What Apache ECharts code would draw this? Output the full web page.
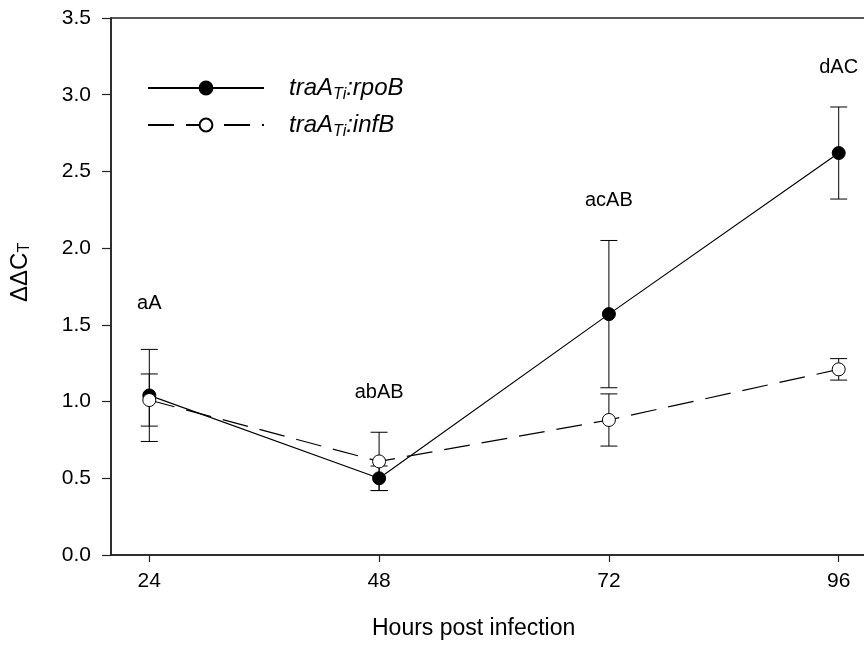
<!DOCTYPE html>
<html>
<head>
<meta charset="utf-8">
<script src="https://cdn.jsdelivr.net/npm/echarts@6/dist/echarts.min.js"></script>
<style>
  html, body { margin: 0; padding: 0; background: #fff; overflow: hidden; width: 864px; height: 648px; }
  #chart { width: 900px; height: 648px; }
</style>
</head>
<body>
<div id="chart"></div>
<script>
// data
var hours = [24, 48, 72, 96];
var rpoBMean = [1.04, 0.50, 1.57, 2.62];
var rpoBErr = [0.30, 0.08, 0.48, 0.30];
var infBMean = [1.01, 0.61, 0.88, 1.21];
var infBErr = [0.17, 0.19, 0.17, 0.07];
var groupLabels = ['aA', 'abAB', 'acAB', 'dAC'];
var groupLabelY = [1.64, 1.06, 2.31, 3.18];

var font = 'Liberation Sans';
var chart = echarts.init(document.getElementById('chart'));

var pairs = function (xs, ys) {
  return xs.map(function (x, i) { return [x, ys[i]]; });
};
var errRows = function (means, errs) {
  return hours.map(function (h, i) { return [h, means[i], errs[i]]; });
};

// vertical error bar with caps
var renderErr = function (params, api) {
  var x = api.value(0), m = api.value(1), e = api.value(2);
  var top = api.coord([x, m + e]);
  var bot = api.coord([x, m - e]);
  var w = 8.5;
  var style = {stroke: '#000', lineWidth: 1};
  return {
    type: 'group',
    children: [
      {type: 'line', shape: {x1: top[0], y1: top[1], x2: bot[0], y2: bot[1]}, style: style},
      {type: 'line', shape: {x1: top[0] - w, y1: top[1], x2: top[0] + w, y2: top[1]}, style: style},
      {type: 'line', shape: {x1: bot[0] - w, y1: bot[1], x2: bot[0] + w, y2: bot[1]}, style: style}
    ]
  };
};

var legendRich = {
  i: {fontFamily: font, fontStyle: 'italic', fontSize: 24, color: '#000'},
  s: {fontFamily: font, fontStyle: 'italic', fontSize: 16, color: '#000', verticalAlign: 'bottom', padding: [13, 0, 0, 0]}
};
var legendNames = {
  rpoB: '{i|traA}{s|Ti}{i|:rpoB}',
  infB: '{i|traA}{s|Ti}{i|:infB}'
};
var legendBase = function (name, top) {
  return {
    data: [name],
    orient: 'vertical',
    left: 142,
    top: top,
    itemWidth: 116,
    itemHeight: 16,
    selectedMode: false,
    formatter: function (n) { return legendNames[n]; },
    textStyle: {padding: [0, 0, 0, 20], rich: legendRich}
  };
};

var option = {
  animation: false,
  backgroundColor: '#fff',
  textStyle: {fontFamily: font},
  grid: {
    left: 111, top: 18, width: 766, height: 537,
    show: true, borderColor: '#222', borderWidth: 1.5
  },
  legend: [legendBase('rpoB', 71), legendBase('infB', 108)],
  xAxis: {
    type: 'value',
    min: 20,
    max: 100,
    splitLine: {show: false},
    axisLine: {lineStyle: {color: '#222', width: 1.5}},
    axisTick: {length: 7, lineStyle: {color: '#222', width: 1.2}, customValues: hours},
    axisLabel: {color: '#000', fontSize: 21, fontFamily: font, margin: 16, customValues: hours}
  },
  yAxis: {
    type: 'value',
    min: 0,
    max: 3.5,
    interval: 0.5,
    splitLine: {show: false},
    axisLine: {lineStyle: {color: '#222', width: 1.5}},
    axisTick: {length: 9, lineStyle: {color: '#222', width: 1.2}},
    axisLabel: {
      color: '#000', fontSize: 21, fontFamily: font, margin: 20,
      formatter: function (v) { return v.toFixed(1); }
    }
  },
  graphic: [
    {
      type: 'text',
      left: 372, top: 617,
      style: {text: 'Hours post infection', fontFamily: font, fontSize: 23, fill: '#000'}
    },
    {
      type: 'text',
      x: 7, y: 302,
      rotation: Math.PI / 2,
      style: {
        text: '{a|ΔΔC}{b|T}',
        rich: {
          a: {fontFamily: font, fontSize: 24, fill: '#000'},
          b: {fontFamily: font, fontSize: 16, fill: '#000', verticalAlign: 'bottom', padding: [10, 0, 0, 0]}
        }
      }
    }
  ],
  series: [
    {
      name: 'rpoBErr', type: 'custom', z: 1,
      renderItem: renderErr, data: errRows(rpoBMean, rpoBErr)
    },
    {
      name: 'infBErr', type: 'custom', z: 1,
      renderItem: renderErr, data: errRows(infBMean, infBErr)
    },
    {
      name: 'rpoB', type: 'line', z: 3,
      data: pairs(hours, rpoBMean),
      symbol: 'circle', symbolSize: 13,
      lineStyle: {color: '#000', width: 1.2},
      itemStyle: {color: '#000', borderColor: '#000', borderWidth: 1}
    },
    {
      name: 'infB', type: 'line', z: 4,
      data: pairs(hours, infBMean),
      symbol: 'circle', symbolSize: 13,
      lineStyle: {color: '#000', width: 1.2, type: [26, 12]},
      itemStyle: {color: '#fff', borderColor: '#000', borderWidth: 1}
    },
    {
      name: 'groups', type: 'scatter', z: 5,
      data: pairs(hours, groupLabelY),
      symbolSize: 0,
      itemStyle: {opacity: 1},
      label: {
        show: true, position: 'inside',
        color: '#000', fontSize: 20, fontFamily: font,
        formatter: function (p) { return groupLabels[p.dataIndex]; }
      }
    }
  ]
};

chart.setOption(option);
</script>
</body>
</html>
